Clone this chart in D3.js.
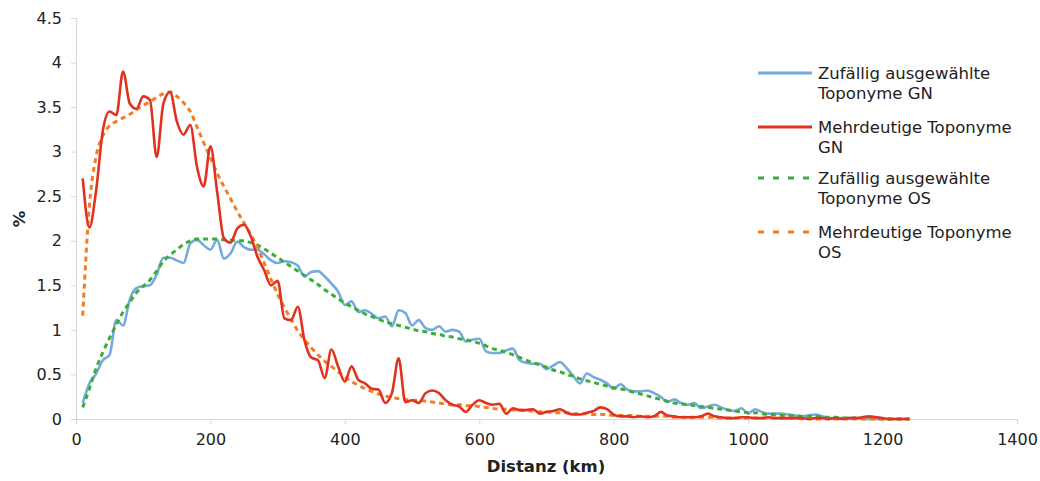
<!DOCTYPE html>
<html><head><meta charset="utf-8">
<script src="https://cdn.jsdelivr.net/npm/d3@7"></script>
<style>
html,body{margin:0;padding:0;background:#fff;}
text{font-family:"DejaVu Sans",Verdana,sans-serif;fill:#222;}
</style></head>
<body><svg id="chart" width="1040" height="481"></svg>
<script>
// Distance (km), every 10 km from 10 to 1240
const distances = d3.range(10, 1241, 10);

const gnRandom = [0.18,0.40,0.51,0.66,0.72,1.11,1.05,1.34,1.47,1.49,1.50,1.62,1.81,1.81,1.78,1.75,1.97,2.01,1.95,1.90,
2.01,1.80,1.86,1.99,1.93,1.90,1.90,1.85,1.78,1.75,1.77,1.76,1.72,1.60,1.65,1.66,1.60,1.52,1.43,1.28,
1.32,1.20,1.22,1.18,1.13,1.15,1.04,1.22,1.19,1.05,1.11,1.02,1.00,1.04,0.98,1.00,0.98,0.87,0.89,0.90,
0.76,0.74,0.74,0.77,0.79,0.66,0.63,0.62,0.62,0.56,0.60,0.64,0.57,0.48,0.40,0.51,0.47,0.44,0.40,0.34,
0.39,0.33,0.31,0.31,0.32,0.29,0.25,0.19,0.22,0.18,0.16,0.18,0.12,0.14,0.16,0.13,0.10,0.09,0.12,0.06,
0.11,0.08,0.06,0.06,0.06,0.05,0.04,0.03,0.04,0.05,0.03,0.01,0.01,0.01,0.01,0.01,0.00,0.00,0.00,0.00,
0.00,0.00,0.00,0.00];

const gnAmbiguous = [2.70,2.15,2.57,3.24,3.45,3.41,3.90,3.54,3.48,3.62,3.58,2.94,3.54,3.67,3.34,3.19,3.30,2.83,2.61,3.06,
2.55,2.03,1.98,2.14,2.18,2.05,1.82,1.67,1.50,1.55,1.13,1.11,1.26,0.88,0.69,0.66,0.46,0.78,0.59,0.42,
0.59,0.44,0.40,0.34,0.33,0.18,0.29,0.68,0.19,0.21,0.18,0.29,0.32,0.29,0.21,0.16,0.14,0.08,0.16,0.21,
0.18,0.16,0.17,0.06,0.12,0.10,0.10,0.11,0.06,0.08,0.09,0.11,0.07,0.05,0.05,0.07,0.09,0.13,0.11,0.05,
0.03,0.03,0.02,0.03,0.02,0.03,0.08,0.04,0.03,0.02,0.02,0.02,0.03,0.06,0.03,0.02,0.01,0.01,0.02,0.02,
0.01,0.01,0.02,0.01,0.01,0.01,0.01,0.01,0.00,0.01,0.01,0.00,0.01,0.00,0.01,0.01,0.02,0.03,0.02,0.01,
0.00,0.00,0.00,0.00];

const osRandom = [0.13,0.34,0.57,0.75,0.91,1.06,1.20,1.31,1.42,1.49,1.56,1.66,1.77,1.84,1.90,1.96,2.00,2.02,2.02,2.02,
2.02,2.01,2.01,2.00,2.00,1.98,1.95,1.91,1.86,1.81,1.76,1.71,1.66,1.61,1.56,1.51,1.45,1.40,1.35,1.30,
1.26,1.22,1.18,1.15,1.12,1.09,1.07,1.05,1.03,1.01,0.99,0.98,0.96,0.95,0.93,0.92,0.90,0.89,0.87,0.85,
0.82,0.79,0.77,0.75,0.72,0.69,0.66,0.63,0.61,0.58,0.55,0.53,0.50,0.48,0.45,0.43,0.41,0.39,0.37,0.35,
0.34,0.32,0.30,0.28,0.26,0.24,0.22,0.20,0.18,0.17,0.16,0.15,0.14,0.13,0.12,0.11,0.10,0.09,0.08,0.07,
0.07,0.06,0.05,0.05,0.04,0.04,0.04,0.03,0.03,0.03,0.02,0.02,0.02,0.01,0.01,0.01,0.01,0.01,0.00,0.00,
0.00,0.00,0.00,0.00];

const osAmbiguous = [1.16,2.40,2.95,3.18,3.29,3.34,3.38,3.42,3.47,3.52,3.56,3.61,3.65,3.67,3.62,3.55,3.45,3.28,3.10,2.93,
2.76,2.61,2.47,2.33,2.20,2.07,1.93,1.75,1.57,1.40,1.25,1.12,0.99,0.89,0.80,0.72,0.65,0.59,0.53,0.47,
0.42,0.38,0.34,0.31,0.28,0.26,0.24,0.23,0.22,0.21,0.21,0.20,0.19,0.18,0.17,0.16,0.16,0.15,0.15,0.14,
0.13,0.12,0.11,0.11,0.10,0.10,0.09,0.09,0.08,0.08,0.07,0.07,0.07,0.06,0.06,0.06,0.05,0.05,0.05,0.04,
0.04,0.04,0.04,0.03,0.03,0.03,0.03,0.03,0.02,0.02,0.02,0.02,0.02,0.02,0.02,0.01,0.01,0.01,0.01,0.01,
0.01,0.01,0.01,0.01,0.01,0.01,0.01,0.00,0.00,0.00,0.00,0.00,0.00,0.00,0.00,0.00,0.00,0.00,0.00,0.00,
0.00,0.00,0.00,0.00];

const xTicks = [0,200,400,600,800,1000,1200,1400];
const yTicks = [0,0.5,1,1.5,2,2.5,3,3.5,4,4.5];

const seriesNames = ["Zufällig ausgewählte Toponyme GN","Mehrdeutige Toponyme GN","Zufällig ausgewählte Toponyme OS","Mehrdeutige Toponyme OS"];
const legendLines = [["Zufällig ausgewählte","Toponyme GN"],["Mehrdeutige Toponyme","GN"],["Zufällig ausgewählte","Toponyme OS"],["Mehrdeutige Toponyme","OS"]];
const seriesValues = [gnRandom, gnAmbiguous, osRandom, osAmbiguous];
const colors = ["#74aadd","#e0321f","#3aae3a","#f47d22"];
const dashed = [false,false,true,true];

const svg = d3.select("#chart");
const x = d3.scaleLinear().domain([0,1400]).range([76,1017]);
const y = d3.scaleLinear().domain([0,4.5]).range([419,18]);

// axes
const xAxis = svg.append("g").attr("transform","translate(0,419)")
  .call(d3.axisBottom(x).tickValues(xTicks).tickSize(5).tickPadding(10).tickFormat(d3.format("d")));
const yAxis = svg.append("g").attr("transform","translate(76,0)")
  .call(d3.axisLeft(y).tickValues(yTicks).tickSize(5).tickPadding(9).tickFormat(d => String(d)));
[xAxis,yAxis].forEach(a=>{
  a.select(".domain").attr("stroke","#d9d9d9").attr("stroke-width",1.2);
  a.selectAll(".tick line").attr("stroke","#d9d9d9");
  a.selectAll(".tick text").attr("font-size",16).attr("font-family","DejaVu Sans, sans-serif").attr("fill","#222");
});

svg.append("text").attr("x",546).attr("y",472).attr("text-anchor","middle")
  .attr("font-size",16.5).attr("font-weight","bold").text("Distanz (km)");
svg.append("text").attr("transform","translate(25,219) rotate(-90)").attr("text-anchor","middle")
  .attr("font-size",16.5).attr("font-weight","bold").text("%");

const line = d3.line().x((d,i)=>x(distances[i])).y(d=>y(d)).curve(d3.curveMonotoneX);

const order = [0,2,3,1];
order.forEach(s=>{
  svg.append("path").datum(seriesValues[s])
    .attr("d",line).attr("fill","none").attr("stroke",colors[s])
    .attr("stroke-width", dashed[s]?3:2.6)
    .attr("stroke-dasharray", dashed[s]?"5,4":null)
    .attr("stroke-linejoin","round");
});

// legend
const legY = [73,127,178,232];
seriesNames.forEach((n,i)=>{
  const g = svg.append("g");
  g.append("line").attr("x1",758).attr("x2",812).attr("y1",legY[i]).attr("y2",legY[i])
    .attr("stroke",colors[i]).attr("stroke-width",2.8)
    .attr("stroke-dasharray", dashed[i]?"6,9":null);
  legendLines[i].forEach((t,j)=>{
    g.append("text").attr("x",818).attr("y",legY[i]+6+j*20).attr("font-size",16.5).text(t);
  });
});
</script></body></html>
